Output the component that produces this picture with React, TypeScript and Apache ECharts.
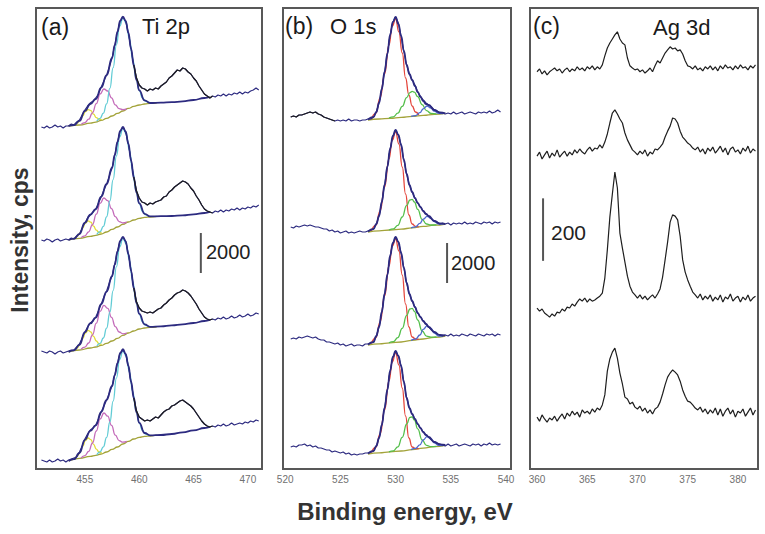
import React, { useEffect, useRef } from "react";
import * as echarts from "echarts";

// ---------------- Panel (a): Ti 2p (cps; stacked with offsets) ----------------
const aTicks = [455, 460, 465, 470];
const aDataStart = 451;
const aDataStep = 0.25;
const aOffsets = [17100, 11450, 5850, 400];
const aSatWindow = [459.5, 466.75];

const aData1 = [0,-50,50,-50,0,100,0,50,-50,50, 50,150,100,250,350,600,850,1050,1200,1300, 1450,1650,2000,2300,2600,3000,3450,4100,4750,5300, 5500,5300,4700,3900,3100,2450,2100,1950,1900,1800, 1900,1850,1950,1900,2050,2150,2250,2450,2550,2700, 2850,2800,2950,2900,2750,2650,2450,2300,2050,1850, 1650,1550,1450,1550,1500,1600,1550,1650,1550,1650, 1600,1700,1650,1750,1650,1750,1700,1800,1850,1950, 1850];
const aData2 = [0,-50,50,0,-100,0,50,-50,0,50, 0,100,50,200,300,600,850,1100,1250,1400, 1550,1850,2150,2500,2800,3200,3600,4250,4900,5450, 5650,5400,4800,4000,3150,2450,2100,1900,1850,1750, 1850,1800,1900,1950,2000,2150,2200,2400,2500,2650, 2750,2850,2950,2900,2800,2600,2450,2200,2000,1750, 1550,1450,1400,1350,1450,1400,1500,1400,1500,1450, 1550,1500,1600,1500,1600,1550,1650,1600,1700,1650, 1750];
const aData3 = [50,0,-50,50,0,-100,0,50,-50,0, 50,100,100,250,400,700,1000,1250,1450,1550, 1750,2050,2400,2750,3050,3450,3800,4400,5050,5550, 5750,5550,4900,4100,3200,2500,2200,2050,2000,1950, 2000,1950,2050,2150,2200,2350,2450,2600,2700,2850, 2950,3000,3100,3050,2950,2800,2600,2400,2150,1950, 1750,1650,1600,1650,1600,1700,1650,1750,1650,1700, 1800,1700,1750,1850,1750,1800,1900,1800,1850,1950, 1900];
const aData4 = [50,0,-50,50,-50,0,100,0,50,-50, 50,100,150,200,450,750,1100,1350,1550,1650, 1800,2100,2450,2750,3050,3400,3750,4300,4900,5400, 5550,5350,4750,3950,3150,2500,2200,2100,2000,2050, 2000,2100,2200,2150,2300,2450,2550,2600,2750,2800, 2900,3000,3050,2950,2850,2750,2600,2400,2200,2000, 1850,1750,1700,1750,1700,1800,1750,1850,1750,1800, 1900,1800,1850,1900,1850,1950,1900,2000,1950,2050, 2000];

const aEnvEV = [453.5,454,454.5,455,455.5,456,456.5,457,457.5,457.75,458,458.25,458.5,458.75,459,459.25,459.5,459.75,460,460.5,461,462,463,464,465,466,466.5];
const aEnv1 = [50,100,310,800,1150,1390,1970,2590,3460,4090,4770,5320,5520,5310,4720,3910,3070,2350,1830,1330,1200,1220,1240,1280,1350,1450,1500];
const aEnv2 = [0,70,310,870,1270,1540,2170,2800,3620,4250,4910,5450,5650,5430,4820,3980,3110,2370,1830,1310,1180,1190,1200,1230,1280,1350,1400];
const aEnv3 = [0,80,360,990,1430,1720,2390,3020,3790,4370,5020,5560,5760,5530,4910,4060,3190,2450,1910,1380,1260,1280,1330,1380,1450,1550,1600];
const aEnv4 = [0,90,400,1060,1510,1780,2460,3060,3750,4290,4890,5390,5590,5360,4770,3970,3150,2430,1910,1400,1280,1300,1350,1430,1530,1650,1700];

const aBgEV = [453.5,454.5,455.5,456,456.5,457,457.5,458,458.5,459,459.5,460,460.5,461,461.6];
const aBg1 = [50,100,190,240,330,430,550,680,800,930,1030,1100,1150,1180,1200];
const aBg2 = [0,80,180,230,300,400,530,650,780,900,1000,1080,1130,1150,1180];
const aBg3 = [0,100,200,250,330,430,550,680,830,950,1050,1150,1200,1230,1250];
const aBg4 = [0,130,230,280,350,450,580,700,850,980,1100,1180,1230,1250,1300];

const aYelEV = [454.05,454.3,454.55,454.8,455.05,455.3,455.55,455.8,456.05,456.3,456.55];
const aYel1 = [110,190,330,550,770,870,820,640,470,390,370];
const aYel2 = [90,180,350,600,840,960,890,690,490,380,350];
const aYel3 = [100,200,400,670,950,1080,1000,780,550,410,380];
const aYel4 = [120,230,430,730,1020,1150,1070,830,590,450,390];

const aMagEV = [454.65,455,455.35,455.7,456.05,456.4,456.75,457.1,457.45,457.8,458.15,458.5,458.85];
const aMag1 = [130,220,390,710,1170,1650,1900,1800,1460,1110,920,870,910];
const aMag2 = [120,210,410,770,1290,1830,2100,1970,1570,1170,920,850,890];
const aMag3 = [140,240,450,860,1440,2030,2330,2180,1730,1270,1000,910,940];
const aMag4 = [150,270,480,900,1500,2100,2400,2240,1780,1290,1020,940,980];

const aCyaEV = [456.1,456.4,456.7,457,457.3,457.6,457.9,458.2,458.5,458.8,459.1,459.4,459.7,460,460.3,460.6,460.9];
const aCya1 = [290,430,690,1160,1930,2970,4110,5050,5450,5200,4400,3390,2480,1830,1450,1280,1210];
const aCya2 = [280,420,680,1160,1950,3020,4200,5160,5580,5310,4480,3440,2500,1830,1440,1260,1180];
const aCya3 = [310,430,700,1190,1990,3070,4260,5250,5680,5410,4580,3530,2570,1910,1520,1330,1270];
const aCya4 = [320,460,710,1180,1950,2990,4140,5080,5500,5250,4460,3470,2570,1910,1530,1350,1280];

const aScaleBar = { x: 465.67, from: 9800, to: 11800, label: "2000" };

// ---------------- Panel (b): O 1s ----------------
const bTicks = [520, 525, 530, 535, 540];
const bDataStart = 520.5;
const bDataStep = 0.25;
const bOffsets = [17450, 11850, 6200, 750];
const bBlackWindow1 = [520.5, 524.5];

const bData1 = [150,200, 150,250,250,300,350,400,350,400,300,250,150,100,50,0,-50,0, -50,0,-50,50,-50,0,0,-50,0,0,50,50,150,400,850,1550, 2400,3300,4250,4900,5150,4850,4200,3400,2750,2300,2000,1750,1400,1200,1000,850, 750,650,500,450,350,350,300,350,300,400,300,350,400,300,350,400, 350,300,400,350,400,350,450,350,400,500,400];
const bData2 = [250,200, 300,250,300,350,300,350,300,250,250,200,150,150,50,100,0,50, -50,0,50,-50,0,-50,0,50,0,0,50,100,150,400,800,1500, 2350,3250,4150,4800,5100,4850,4350,3600,2900,2350,2000,1700,1450,1250,1050,900, 800,650,550,500,400,450,400,450,350,450,400,450,400,500,400,450, 400,500,450,400,500,450,500,400,500,450,500];
const bData3 = [300,350, 300,400,350,400,450,400,350,400,300,250,250,150,150,100,50,100, 0,50,-50,0,50,-50,0,0,-50,50,50,100,150,450,900,1650, 2550,3500,4450,5100,5400,5150,4600,3850,3100,2550,2200,1900,1600,1400,1200,1050, 900,750,650,550,500,450,500,450,550,450,500,450,550,500,450,550, 500,450,550,500,450,550,500,550,450,550,500];
const bData4 = [350,400, 350,450,450,500,400,450,350,400,300,300,250,200,200,100,150,100, 50,100,0,50,-50,0,-50,0,0,50,50,100,150,400,800,1450, 2300,3200,4150,4850,5150,4900,4400,3600,2800,2300,2000,1750,1500,1300,1100,950, 850,700,600,550,500,450,400,500,400,450,500,400,450,500,450,400, 500,450,500,400,500,450,550,450,500,450,500];

const bEnvEV = [527.5,528,528.25,528.5,528.75,529,529.25,529.5,529.75,530,530.25,530.5,530.75,531,531.25,531.5,531.75,532,532.25,532.5,532.75,533,533.5,534,534.5];
const bEnv1 = [25,150,400,850,1550,2400,3300,4250,4900,5150,4800,4200,3450,2750,2300,2000,1700,1400,1150,950,800,750,500,380,330];
const bEnv2 = [25,150,400,800,1500,2350,3250,4150,4800,5100,4850,4350,3600,2900,2350,2000,1700,1450,1250,1050,900,800,550,430,400];
const bEnv3 = [25,150,450,900,1650,2550,3500,4450,5100,5400,5150,4600,3850,3100,2550,2200,1900,1600,1400,1200,1050,900,650,500,480];
const bEnv4 = [25,150,400,800,1450,2300,3200,4150,4850,5150,4900,4400,3600,2800,2300,2000,1750,1500,1300,1100,950,850,600,480,450];

const bBgEV = [527.5,528.5,529.5,530.5,531.5,532.5,533.5,534.5];
const bBg1 = [0,50,80,130,180,230,280,330];
const bBg2 = [0,60,100,140,210,280,340,400];
const bBg3 = [0,60,110,150,230,300,380,450];
const bBg4 = [0,60,110,150,220,290,370,430];

const bRedEV = [527.8,528.2,528.6,529,529.4,529.7,530,530.3,530.6,530.9,531.2,531.5,531.8,532.1];
const bRed1 = [40,330,1100,2300,3750,4700,5050,4400,3350,2100,1250,700,400,250];
const bRed2 = [60,330,1050,2250,3650,4600,5000,4400,3250,1900,850,400,280,250];
const bRed3 = [80,350,1150,2450,3950,4950,5300,4700,3500,2050,900,400,300,280];
const bRed4 = [80,330,1000,2200,3650,4600,5050,4450,3300,1900,800,350,270,270];

const bGrnEV = [529.4,529.8,530.2,530.6,531,531.3,531.5,531.7,532,532.4,532.8,533.2,533.7];
const bGrn1 = [100,160,340,680,1120,1370,1430,1390,1170,770,470,330,300];
const bGrn2 = [100,160,330,750,1330,1600,1630,1500,1130,630,400,350,360];
const bGrn3 = [110,170,370,830,1480,1800,1830,1680,1250,700,440,390,400];
const bGrn4 = [110,160,360,830,1500,1830,1850,1700,1260,700,430,370,380];

const bBluEV = [531.4,531.8,532.2,532.5,532.85,533.2,533.5,533.9,534.3];
const bBlu1 = [180,220,370,560,700,600,440,330,320];
const bBlu2 = [210,260,430,640,780,680,520,400,390];
const bBlu3 = [230,290,500,780,960,830,600,450,440];
const bBlu4 = [220,280,460,700,870,750,560,430,420];

const bScaleBar = { x: 534.66, from: 9300, to: 11300, label: "2000" };

// ---------------- Panel (c): Ag 3d ----------------
const cTicks = [360, 365, 370, 375, 380];
const cDataStart = 360;
const cDataStep = 0.25;
const cOffsets = [1277, 1011, 547, 179];

const cData1 = [-6,3,-13,-3,-16,-6,0,6,-3,3,-10,0,6,-6,3,-3,10,0,6,-3,10,3,13,0, 10,3,16,45,70,86,99,112,122,99,86,80,38,13,6,0,3,-6,0,-10,-3,6,-6,13, 29,22,38,54,64,74,67,70,61,64,51,29,13,10,3,13,0,6,-3,10,3,13,0,10, -3,13,3,16,6,10,0,13,3,16,6,10,0,13,6,16];
const cData2 = [-10,3,-19,-6,6,-16,0,-10,10,-13,-3,6,-10,3,-6,10,0,13,3,-3,10,19,6,16, 13,26,16,35,61,96,128,138,125,109,96,64,42,26,10,3,-6,6,-3,10,-10,3,-3,13, 10,19,29,51,70,86,112,109,96,70,51,42,32,26,16,10,19,3,13,-3,16,6,19,0, 10,22,3,16,-6,13,19,3,10,-3,16,6,22,0,13,6];
const cData3 = [-32,-42,-35,-48,-54,-61,-51,-58,-45,-48,-35,-42,-29,-32,-19,-26,-13,-3,-10,0,-13,-3,-10,-6, 0,6,16,64,154,259,333,403,352,208,160,115,70,38,19,10,0,10,-3,6,-6,3,10,0, 13,29,67,122,179,243,266,262,250,198,122,83,58,38,19,10,0,13,-6,6,-3,10,-10,3, -6,10,-13,3,-3,13,-10,0,6,-13,3,-6,10,-10,0,6];
const cData4 = [-13,-26,-6,-19,-29,-16,-22,-10,-26,-13,-3,-19,0,-10,6,-6,3,-13,10,0,6,-3,13,3, 16,10,26,58,134,173,195,208,176,128,93,51,45,29,35,19,13,22,6,16,0,10,-3,13, 19,35,61,90,115,128,138,131,122,102,74,54,38,35,26,16,10,19,3,13,-3,10,0,16, -6,13,-10,6,16,-3,10,-13,6,0,13,-10,3,16,-6,10];

const cScaleBar = { x: 360.6, from: 666, to: 866, label: "200" };

// ---------------- rendering ----------------
const FONT = '"Liberation Sans", Arial, Helvetica, sans-serif';
const COL = {
  navy: "#2d2b80",
  black: "#1e1e1e",
  olive: "#a3a33a",
  yellow: "#e2dc3a",
  magenta: "#c46cba",
  cyan: "#62ccd5",
  red: "#e4463c",
  green: "#54bf4b",
  blue: "#4d69cf",
  frame: "#585858",
  tick: "#707070",
};

type P = [number, number];
const paired = (xs: number[], ys: number[], off: number): P[] => xs.map((x, i) => [x, ys[i] + off]);
const uniform = (start: number, step: number, ys: number[], off: number): P[] => ys.map((y, i) => [start + i * step, y + off]);

function line(g: number, data: P[], color: string, width: number, smooth: boolean, z: number) {
  return {
    type: "line",
    xAxisIndex: g,
    yAxisIndex: g,
    data,
    symbol: "none",
    smooth: smooth ? 0.5 : false,
    smoothMonotone: smooth ? "x" : undefined,
    lineStyle: { color, width },
    z,
    silent: true,
    animation: false,
  };
}

function buildOption() {
  const series: any[] = [];
  const aData = [aData1, aData2, aData3, aData4];
  const aEnv = [aEnv1, aEnv2, aEnv3, aEnv4];
  const aBg = [aBg1, aBg2, aBg3, aBg4];
  const aYel = [aYel1, aYel2, aYel3, aYel4];
  const aMag = [aMag1, aMag2, aMag3, aMag4];
  const aCya = [aCya1, aCya2, aCya3, aCya4];
  aOffsets.forEach((off, i) => {
    series.push(line(0, paired(aBgEV, aBg[i], off), COL.olive, 1.3, true, 2));
    series.push(line(0, paired(aYelEV, aYel[i], off), COL.yellow, 1.3, true, 3));
    series.push(line(0, paired(aMagEV, aMag[i], off), COL.magenta, 1.3, true, 3));
    series.push(line(0, paired(aCyaEV, aCya[i], off), COL.cyan, 1.3, true, 3));
    const pts = uniform(aDataStart, aDataStep, aData[i], off);
    series.push(line(0, pts, COL.navy, 1.2, false, 4));
    series.push(line(0, paired(aEnvEV, aEnv[i], off), COL.navy, 1.8, true, 5));
    series.push(line(0, pts.filter((p) => p[0] >= aSatWindow[0] && p[0] <= aSatWindow[1]), COL.black, 1.2, false, 6));
  });

  const bData = [bData1, bData2, bData3, bData4];
  const bEnv = [bEnv1, bEnv2, bEnv3, bEnv4];
  const bBg = [bBg1, bBg2, bBg3, bBg4];
  const bRed = [bRed1, bRed2, bRed3, bRed4];
  const bGrn = [bGrn1, bGrn2, bGrn3, bGrn4];
  const bBlu = [bBlu1, bBlu2, bBlu3, bBlu4];
  bOffsets.forEach((off, i) => {
    series.push(line(1, paired(bBgEV, bBg[i], off), COL.olive, 1.3, true, 2));
    series.push(line(1, paired(bRedEV, bRed[i], off), COL.red, 1.3, true, 3));
    series.push(line(1, paired(bGrnEV, bGrn[i], off), COL.green, 1.3, true, 3));
    series.push(line(1, paired(bBluEV, bBlu[i], off), COL.blue, 1.3, true, 3));
    const pts = uniform(bDataStart, bDataStep, bData[i], off);
    series.push(line(1, pts, COL.navy, 1.2, false, 4));
    series.push(line(1, paired(bEnvEV, bEnv[i], off), COL.navy, 1.8, true, 5));
    if (i === 0) {
      series.push(line(1, pts.filter((p) => p[0] >= bBlackWindow1[0] && p[0] <= bBlackWindow1[1]), COL.black, 1.2, false, 6));
    }
  });

  const cData = [cData1, cData2, cData3, cData4];
  cOffsets.forEach((off, i) => {
    series.push(line(2, uniform(cDataStart, cDataStep, cData[i], off), COL.black, 1.2, false, 4));
  });

  [aScaleBar, bScaleBar, cScaleBar].forEach((s, g) => {
    series.push(line(g, [[s.x, s.from], [s.x, s.to]], "#555555", 2, false, 7));
  });

  const grids = [
    { left: 36, top: 8, width: 226, height: 461 },
    { left: 283, top: 8, width: 228, height: 461 },
    { left: 530, top: 8, width: 228, height: 461 },
  ].map((g) => ({ ...g, show: true, borderColor: COL.frame, borderWidth: 2, backgroundColor: "transparent" }));

  const ranges = [
    { min: 450.5, max: 471.3, ticks: aTicks },
    { min: 519.8, max: 540.45, ticks: bTicks },
    { min: 359.3, max: 382.0, ticks: cTicks },
  ];
  const xAxis = ranges.map((r, g) => ({
    type: "value",
    gridIndex: g,
    min: r.min,
    max: r.max,
    axisLine: { show: false },
    axisTick: { show: false },
    splitLine: { show: false },
    axisLabel: {
      customValues: r.ticks,
      color: COL.tick,
      fontSize: 10,
      fontFamily: FONT,
      margin: 5,
    },
  }));
  const yMax = [23050, 23050, 1475];
  const yAxis = yMax.map((m, g) => ({
    type: "value",
    gridIndex: g,
    min: 0,
    max: m,
    show: false,
    splitLine: { show: false },
  }));

  const txt = (text: string, x: number, y: number, size: number, opts: any = {}) => ({
    type: "text",
    x,
    y,
    rotation: opts.rotation || 0,
    silent: true,
    z: 10,
    style: {
      text,
      fill: opts.fill || "#1a1a1a",
      font: `${opts.bold ? "bold " : ""}${size}px ${FONT}`,
      textAlign: opts.align || "left",
      align: opts.align || "left",
      textVerticalAlign: "middle",
      verticalAlign: "middle",
    },
  });

  const graphic = [
    txt("(a)", 41, 27, 23),
    txt("Ti 2p", 142, 26, 22),
    txt("(b)", 285, 26, 23),
    txt("O 1s", 330, 26, 22),
    txt("(c)", 533, 26, 23),
    txt("Ag 3d", 653, 27, 22),
    txt("2000", 206, 252, 20, { fill: "#222" }),
    txt("2000", 451, 263, 20, { fill: "#222" }),
    txt("200", 551, 232, 21, { fill: "#222" }),
    txt("Intensity, cps", 20, 240, 23, { bold: true, align: "center", rotation: Math.PI / 2, fill: "#333" }),
    txt("Binding energy, eV", 405, 511, 24, { bold: true, align: "center", fill: "#333" }),
  ];

  return {
    animation: false,
    backgroundColor: "#ffffff",
    grid: grids,
    xAxis,
    yAxis,
    series,
    graphic,
  };
}

export default function App() {
  const ref = useRef<HTMLDivElement>(null);
  useEffect(() => {
    if (!ref.current) return;
    const chart = echarts.init(ref.current, undefined, { renderer: "svg" });
    chart.setOption(buildOption() as any);
    return () => chart.dispose();
  }, []);
  return <div ref={ref} style={{ position: "absolute", left: 0, top: 0, width: 765, height: 534 }} />;
}
